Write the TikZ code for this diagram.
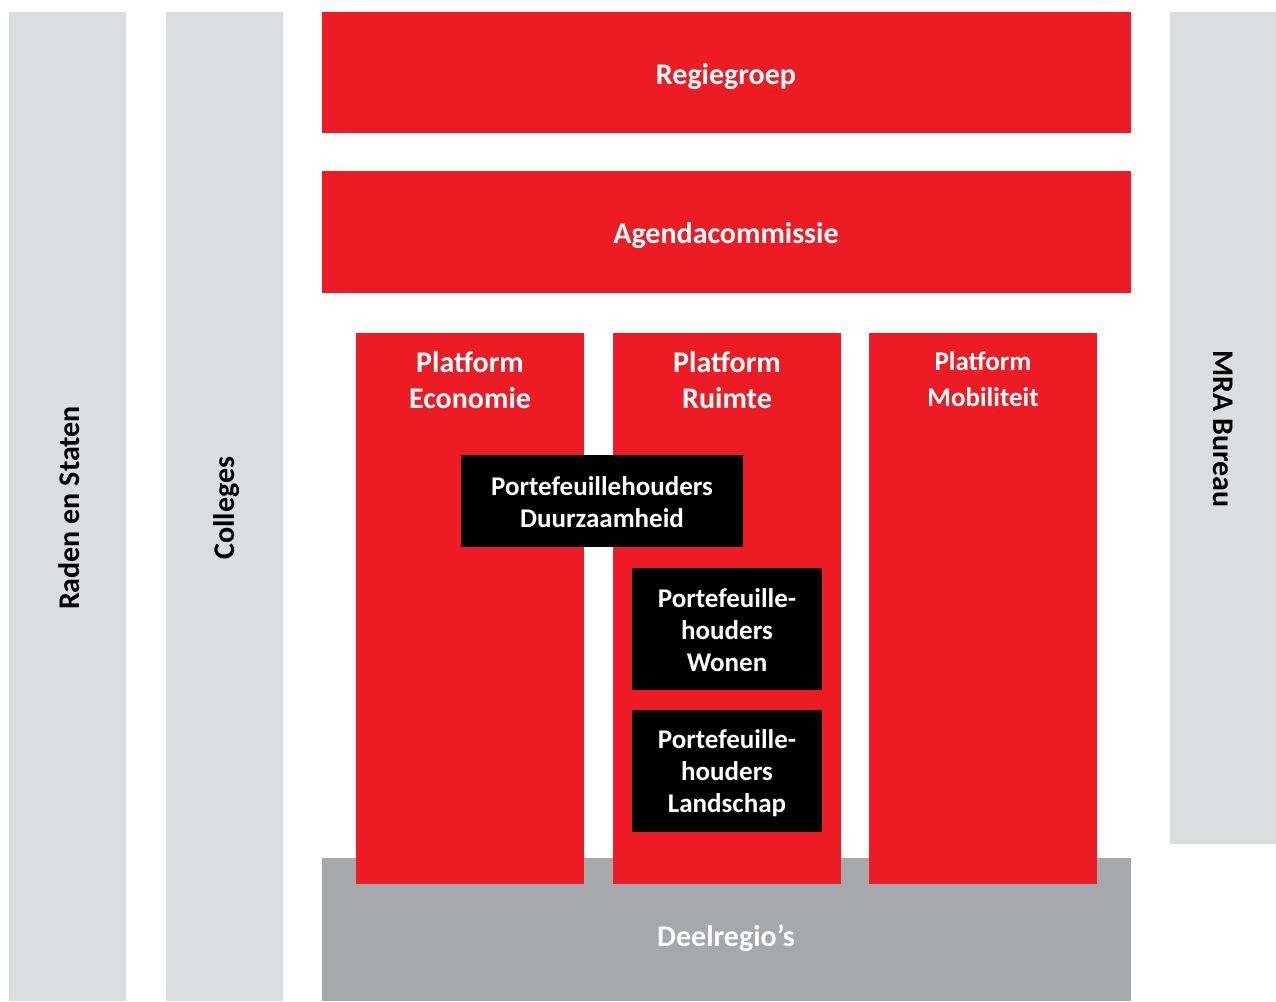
\documentclass[tikz,border=0pt]{standalone}
\usepackage{fontspec}
\setmainfont{Carlito}
\definecolor{mrared}{HTML}{ED1C24}
\definecolor{lightgrey}{HTML}{DCDDDF}
\definecolor{midgrey}{HTML}{A7A8AB}
\begin{document}
\begin{tikzpicture}[x=1pt,y=-1pt,
  area/.style={draw=none,inner sep=0pt,anchor=north west},
  redbox/.style={area,fill=mrared},
  greybox/.style={area,fill=lightgrey},
  darkgreybox/.style={area,fill=midgrey},
  blackbox/.style={area,fill=black},
  whitetext/.style={text=white,font=\fontsize{30}{36}\selectfont\bfseries,align=center,inner sep=0pt},
  smalltext/.style={text=white,font=\fontsize{27}{32}\selectfont\bfseries,align=center,inner sep=0pt},
  blacktext/.style={text=black,font=\fontsize{30}{36}\selectfont\bfseries,align=center,inner sep=0pt}]
\useasboundingbox (0,0) rectangle (1276,1001);
% side columns
\node[greybox,minimum width=117pt,minimum height=989pt] (raden) at (9,12) {};
\node[greybox,minimum width=117pt,minimum height=989pt] (colleges) at (166,12) {};
\node[greybox,minimum width=106pt,minimum height=832pt] (bureau) at (1170,12) {};
\node[blacktext,rotate=90] (radenlbl) at (69,508) {Raden en Staten};
\node[blacktext,rotate=90] (collegeslbl) at (227,508) {Colleges};
\node[blacktext,rotate=-90] (bureaulbl) at (1223,429) {MRA Bureau};
% top bars
\node[redbox,minimum width=809pt,minimum height=121pt] (regie) at (322,12) {};
\node[whitetext] (regielbl) at (726,77) {Regiegroep};
\node[redbox,minimum width=809pt,minimum height=122pt] (agenda) at (322,171) {};
\node[whitetext] (agendalbl) at (726,236) {Agendacommissie};
% deelregio's
\node[darkgreybox,minimum width=809pt,minimum height=143pt] (deel) at (322,858) {};
\node[whitetext] (deellbl) at (726,938) {Deelregio’s};
% platforms
\node[redbox,minimum width=228pt,minimum height=551pt] (eco) at (356,333) {};
\node[redbox,minimum width=228pt,minimum height=551pt] (ruimte) at (613,333) {};
\node[redbox,minimum width=228pt,minimum height=551pt] (mob) at (869,333) {};
\node[whitetext] (ecolbl) at (470,380) {Platform\\Economie};
\node[whitetext] (ruimtelbl) at (727,380) {Platform\\Ruimte};
\node[whitetext,font=\fontsize{27}{36}\selectfont\bfseries] (moblbl) at (983,379) {Platform\\Mobiliteit};
% portefeuillehouders
\node[blackbox,minimum width=282pt,minimum height=92pt] (duur) at (461,455) {};
\node[smalltext] (duurlbl) at (602,502) {Portefeuillehouders\\Duurzaamheid};
\node[blackbox,minimum width=190pt,minimum height=122pt] (wonen) at (632,568) {};
\node[smalltext] (wonenlbl) at (727,630) {Portefeuille-\\houders\\Wonen};
\node[blackbox,minimum width=190pt,minimum height=122pt] (land) at (632,710) {};
\node[smalltext] (landlbl) at (727,773) {Portefeuille-\\houders\\Landschap};
\end{tikzpicture}
\end{document}
